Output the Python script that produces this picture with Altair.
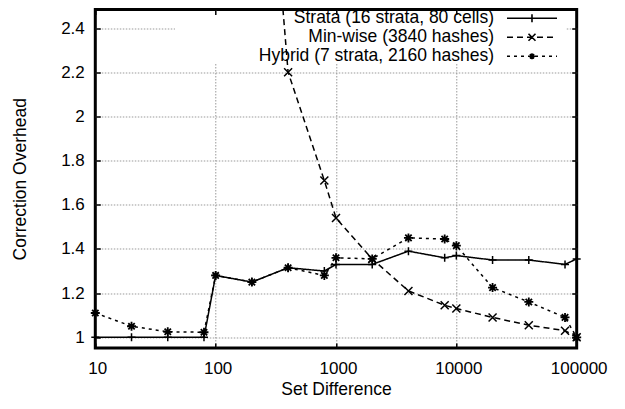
import altair as alt
import pandas as pd

# ---- data ----
set_diff = [10, 20, 40, 80, 100, 200, 400, 800, 1000, 2000, 4000, 8000, 10000, 20000, 40000, 80000, 100000]
strata = [1.0, 1.0, 1.0, 1.0, 1.28, 1.25, 1.315, 1.30, 1.33, 1.33, 1.39, 1.36, 1.37, 1.35, 1.35, 1.33, 1.355]
minwise = [None, None, None, None, None, 4.2, 2.2, 1.71, 1.54, 1.355, 1.21, 1.145, 1.13, 1.09, 1.055, 1.03, 1.0]
hybrid = [1.11, 1.05, 1.025, 1.023, 1.28, 1.25, 1.315, 1.28, 1.36, 1.355, 1.45, 1.445, 1.415, 1.225, 1.16, 1.09, 1.0]
series_names = ["Strata (16 strata, 80 cells)", "Min-wise (3840 hashes)", "Hybrid (7 strata, 2160 hashes)"]
x_ticks = [10, 100, 1000, 10000, 100000]
y_ticks = [1, 1.2, 1.4, 1.6, 1.8, 2, 2.2, 2.4]
x_range = [10, 100000]
y_range = [0.9516, 2.484]
key_box_x = [46, 81500]
key_box_y = [2.242, 2.477]

rows = []
for name, vals in zip(series_names, [strata, minwise, hybrid]):
    for xv, yv in zip(set_diff, vals):
        if yv is not None:
            rows.append({"x": xv, "y": yv, "series": name})
df = pd.DataFrame(rows)
box_df = pd.DataFrame({"x0": [key_box_x[0]], "x1": [key_box_x[1]], "y0": [key_box_y[0]], "y1": [key_box_y[1]]})

FONT = "Liberation Sans"
x_scale = alt.Scale(type="log", domain=x_range, nice=False)
y_scale = alt.Scale(domain=y_range, nice=False, zero=False)
dash_scale = alt.Scale(domain=series_names, range=[[1, 0], [6, 4], [3, 4]])

marker_paths = [
    "M-4,0H4M0,-4V4",
    "M-4,-4L4,4M-4,4L4,-4",
    "M-4.5,0H4.5M0,-4.5V4.5M-3.2,-3.2L3.2,3.2M-3.2,3.2L3.2,-3.2",
]
legend_paths = [
    "M-25,0H25M0,-4V4",
    "M-25,0H25M0,0L3.5,3.5M0,0L-3.5,3.5M0,0L3.5,-3.5M0,0L-3.5,-3.5",
    "M-25,0H25M0,0L0,-3M0,0L0,3M0,0L-3,0M0,0L3,0M0,0L2.5,2.5M0,0L-2.5,2.5M0,0L2.5,-2.5M0,0L-2.5,-2.5",
]

grid_common = dict(grid=True, gridColor="#9a9a9a", gridDash=[1.5, 1.5], gridWidth=1,
                   ticks=False, tickSize=0, domain=False, labelFont=FONT, labelFontSize=17,
                   labelColor="black", titleFont=FONT, titleFontSize=17.5, titleFontWeight="normal",
                   titleColor="black", titleBaseline="alphabetic")

main_x_axis = alt.Axis(orient="bottom", values=x_ticks, format="d", labelPadding=13, labelFlush=False,
                       labelOffset=2, titleY=46.5, title="Set Difference",
                       gridOpacity={"condition": {"test": "datum.value <= 10 || datum.value >= 100000", "value": 0}, "value": 1},
                       **grid_common)
main_y_axis = alt.Axis(orient="left", values=y_ticks, format="~g", labelPadding=11,
                       titleX=-69.8, title="Correction Overhead", **grid_common)

tick_common = dict(labels=False, domain=False, grid=False, ticks=True, tickSize=5, offset=-5,
                   tickColor="black", tickWidth=1.5, title=None, zindex=1)
top_axis = alt.Axis(orient="top", values=x_ticks, **tick_common)
right_axis = alt.Axis(orient="right", values=y_ticks, **tick_common)
bottom_axis = alt.Axis(orient="bottom", values=x_ticks, **tick_common)
left_axis = alt.Axis(orient="left", values=y_ticks, **tick_common)

legend_cfg = alt.Legend(orient="none", legendX=427.95, legendY=0, title=None,
                        labelAlign="right", labelOffset={"expr": "-46.75"}, labelFont=FONT, labelFontSize=17.5,
                        labelColor="black", labelLimit=500, symbolSize=4, symbolStrokeWidth=1.6,
                        symbolStrokeColor="black", symbolOpacity=1, rowPadding=0, padding=0)

box = alt.Chart(box_df).mark_rect(color="white", clip=True).encode(
    x=alt.X("x0:Q", scale=x_scale, axis=None),
    x2="x1:Q",
    y=alt.Y("y0:Q", scale=y_scale, axis=None),
    y2="y1:Q",
)

lines = alt.Chart(df).mark_line(color="black", strokeWidth=1.5, clip=True).encode(
    x=alt.X("x:Q", scale=x_scale, axis=main_x_axis),
    y=alt.Y("y:Q", scale=y_scale, axis=main_y_axis),
    strokeDash=alt.StrokeDash("series:N", scale=dash_scale, legend=legend_cfg),
)

marker_layers = []
for i, (name, path) in enumerate(zip(series_names, marker_paths)):
    m = alt.Chart(df).transform_filter(
        (alt.datum.series == name) & (alt.datum.y <= y_range[1])
    ).mark_point(shape=path, size=4, filled=False, color="black", opacity=1,
                 strokeWidth=1.8 if i == 2 else 1.5).encode(
        x=alt.X("x:Q", scale=x_scale, axis=top_axis if i == 0 else None),
        y=alt.Y("y:Q", scale=y_scale, axis=right_axis if i == 0 else None),
    )
    marker_layers.append(m)

legend_layer = alt.Chart(df).mark_point(size=4, filled=False, color="black", opacity=0, clip=True).encode(
    x=alt.X("x:Q", scale=x_scale, axis=bottom_axis),
    y=alt.Y("y:Q", scale=y_scale, axis=left_axis),
    shape=alt.Shape("series:N", scale=alt.Scale(domain=series_names, range=legend_paths), legend=legend_cfg),
    strokeDash=alt.StrokeDash("series:N", scale=dash_scale, legend=legend_cfg),
)

chart = alt.layer(box, lines, *marker_layers, legend_layer).resolve_axis(
    x="independent", y="independent"
).properties(
    width=481.4, height=338.5,
    autosize=alt.AutoSizeParams(type="none"),
    padding={"left": 87.3, "top": 1.5, "right": 40, "bottom": 53},
    background="white",
).configure_view(stroke="black", strokeWidth=3)

chart.save("out.html", embed_options={"renderer": "svg", "actions": False})
